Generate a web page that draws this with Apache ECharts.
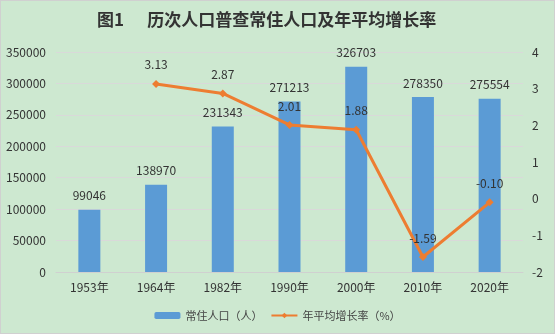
<!DOCTYPE html>
<html><head><meta charset="utf-8">
<script src="https://cdn.jsdelivr.net/npm/echarts@6/dist/echarts.min.js"></script>
<style>
html,body{margin:0;padding:0;background:#cde8d0;}
#c{width:555px;height:334px;box-sizing:border-box;border:1px solid #d0d0d0;background:#cde8d0;}
</style></head><body>
<div id="c"></div>
<script>
const categories = ['1953年','1964年','1982年','1990年','2000年','2010年','2020年'];
const population = [99046,138970,231343,271213,326703,278350,275554];
const growthRate = [null,3.13,2.87,2.01,1.88,-1.59,-0.10];
const titleText = '图1      历次人口普查常住人口及年平均增长率';
const popName = '常住人口（人）';
const rateName = '年平均增长率（%）';

const font = '"Noto Sans CJK SC", "DejaVu Sans", sans-serif';
const chart = echarts.init(document.getElementById('c'), null, {renderer:'canvas'});
chart.setOption({
  backgroundColor: '#cde8d0',
  textStyle: {fontFamily: font},
  title: {
    text: titleText, left: 91, top: 5,
    textStyle: {fontSize: 17, fontWeight: 'bold', color: '#333', fontFamily: font}
  },
  legend: {
    bottom: 7, left: 'center', itemWidth: 26, itemHeight: 7, itemGap: 8,
    textStyle: {fontSize: 11, color: '#444', fontFamily: font},
    data: [popName, rateName]
  },
  grid: {left: 55, right: 31, top: 51, bottom: 61, containLabel: false},
  xAxis: {
    type: 'category', data: categories,
    axisLine: {lineStyle: {color: '#d0d0d0'}},
    axisTick: {show: false},
    axisLabel: {fontSize: 12, color: '#333', margin: 9, fontFamily: font}
  },
  yAxis: [
    {type: 'value', min: 0, max: 350000, interval: 50000,
     axisLine: {show: false}, axisTick: {show: false},
     axisLabel: {fontSize: 12, color: '#333', margin: 10, fontFamily: font, formatter: v => String(v)},
     splitLine: {lineStyle: {color: '#d9d9d9'}}},
    {type: 'value', min: -2, max: 4, interval: 1, position: 'right',
     axisLine: {show: false}, axisTick: {show: false},
     axisLabel: {fontSize: 12, color: '#333', margin: 9, fontFamily: font},
     splitLine: {show: false}}
  ],
  series: [
    {name: popName, type: 'bar', data: population, barWidth: 22,
     itemStyle: {color: '#5b9bd5'},
     label: {show: true, position: 'top', distance: 8, fontSize: 12, color: '#333', fontFamily: font}},
    {name: rateName, type: 'line', yAxisIndex: 1, data: growthRate,
     symbol: 'diamond', symbolSize: 8, connectNulls: false,
     lineStyle: {color: '#ed7d31', width: 3},
     itemStyle: {color: '#ed7d31'},
     label: {show: true, position: 'top', distance: 9, fontSize: 12, color: '#333', fontFamily: font,
             formatter: p => p.value == null ? '' : Number(p.value).toFixed(2)}}
  ]
});
</script>
</body></html>
